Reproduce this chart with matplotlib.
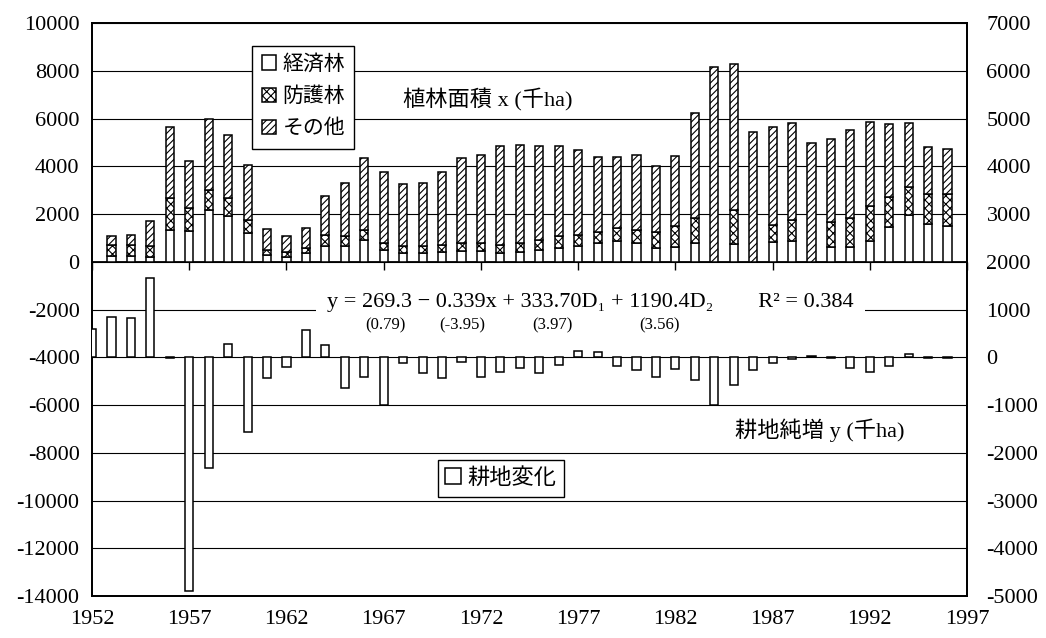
import matplotlib
matplotlib.use('Agg')
import matplotlib.pyplot as plt
import numpy as np

plt.rcParams['font.family'] = ['Liberation Serif', 'DejaVu Serif', 'Noto Sans CJK JP']
plt.rcParams['axes.unicode_minus'] = False
plt.rcParams['hatch.linewidth'] = 0.8

# 植林面積 (千ha), 1953-1996
years = np.arange(1953, 1997)
keizai = np.array([250, 250, 220, 1340, 1270, 2150, 1900, 1200, 290, 220,
                   360, 640, 640, 920, 500, 360, 360, 430, 470, 470,
                   360, 430, 500, 570, 640, 780, 890, 780, 570, 610,
                   780, 0, 750, 0, 810, 890, 0, 610, 610, 890,
                   1440, 1970, 1590, 1480])
bougo = np.array([450, 450, 420, 1320, 980, 860, 760, 560, 210, 210,
                  210, 490, 420, 420, 280, 280, 280, 280, 310, 310,
                  350, 350, 420, 520, 490, 460, 520, 560, 670, 870,
                  1050, 0, 1400, 0, 740, 840, 0, 1040, 1220, 1450,
                  1290, 1180, 1260, 1370])
sonota = np.array([360, 430, 1050, 3000, 1990, 2970, 2650, 2280, 870, 630,
                   840, 1630, 2230, 3000, 3000, 2620, 2680, 3040, 3580, 3700,
                   4140, 4100, 3930, 3760, 3540, 3140, 2990, 3120, 2780, 2960,
                   4390, 8170, 6120, 5450, 4090, 4070, 4970, 3480, 3670, 3530,
                   3040, 2680, 1950, 1870])

# 耕地純増 (千ha), 1952-1996
change_years = np.arange(1952, 1997)
koutei = np.array([600, 840, 820, 1660, -10, -4900, -2320, 280, -1560, -430,
                   -200, 580, 260, -640, -405, -1000, -115, -335, -440, -105,
                   -420, -315, -225, -335, -160, 125, 105, -190, -265, -420,
                   -245, -485, -1000, -585, -260, -120, -30, 20, -10, -225,
                   -305, -190, 70, -20, -10])

fig = plt.figure(figsize=(10.46, 6.38), dpi=100)
ax = fig.add_axes([0.088, 0.0658, 0.8365, 0.8981])
ax2 = ax.twinx()

w = 0.42
bar_kw = dict(edgecolor='black', linewidth=1.1, zorder=3)
ax.bar(years, keizai, w, color='white', label='経済林', **bar_kw)
ax.bar(years, bougo, w, bottom=keizai, color='white', hatch='xxxx',
       label='防護林', **bar_kw)
ax.bar(years, sonota, w, bottom=keizai + bougo, color='white', hatch='/////',
       label='その他', **bar_kw)

ax2.bar(change_years, koutei, w, color='white', label='耕地変化', **bar_kw)

ax.set_xlim(1952, 1997)
ax.set_ylim(-14000, 10000)
ax2.set_ylim(-5000, 7000)
ax.set_xticks(range(1952, 1998, 5))
ax.set_yticks(range(-14000, 10001, 2000))
ax2.set_yticks(range(-5000, 7001, 1000))
ax.yaxis.grid(True, color='black', linewidth=0.8)
ax.set_axisbelow(True)

ax.tick_params(axis='x', length=0, labelsize=16, pad=10)
ax.tick_params(axis='y', length=0, labelsize=16, pad=9)
ax2.tick_params(axis='y', length=0, labelsize=16, pad=14)
for a in (ax, ax2):
    for s in a.spines.values():
        s.set_linewidth(1.3)

# tick marks on the zero line
sec = ax.secondary_xaxis(14000 / 24000)
sec.set_xticks(range(1952, 1998, 5))
sec.tick_params(direction='in', length=6, width=1.0, labeltop=False, labelbottom=False)
sec.spines['top'].set_linewidth(1.3)
sec.spines['bottom'].set_linewidth(1.3)

leg_kw = dict(loc='upper left', frameon=True, fancybox=False, edgecolor='black',
              framealpha=1, fontsize=15, handlelength=0.7, handleheight=0.7,
              handletextpad=0.3, borderpad=0.45, labelspacing=0.6, borderaxespad=0)
leg = ax.legend(bbox_to_anchor=(0.183, 0.960), **leg_kw)
leg.get_frame().set_linewidth(1.0)
leg_kw.update(fontsize=16, borderpad=0.35)
leg2 = ax2.legend(bbox_to_anchor=(0.395, 0.237), **leg_kw)
leg2.get_frame().set_linewidth(1.0)

ax2.text(0.355, 0.866, '植林面積 x (千ha)', transform=ax.transAxes,
         fontsize=16, va='center', ha='left')
ax2.text(0.735, 0.290, '耕地純増 y (千ha)', transform=ax.transAxes,
         fontsize=16, va='center', ha='left')
ax2.text(0.269, 0.513,
         'y = 269.3 − 0.339x + 333.70D₁ + 1190.4D₂        R² = 0.384',
         transform=ax.transAxes, fontsize=16, va='center', ha='left',
         bbox=dict(boxstyle='square,pad=0.5', facecolor='white', edgecolor='none'))
for xpos, t in [(0.335, '(0.79)'), (0.423, '(-3.95)'), (0.526, '(3.97)'), (0.649, '(3.56)')]:
    ax2.text(xpos, 0.473, t, transform=ax.transAxes, fontsize=12,
             va='center', ha='center')

fig.savefig('out.png', dpi=100)
